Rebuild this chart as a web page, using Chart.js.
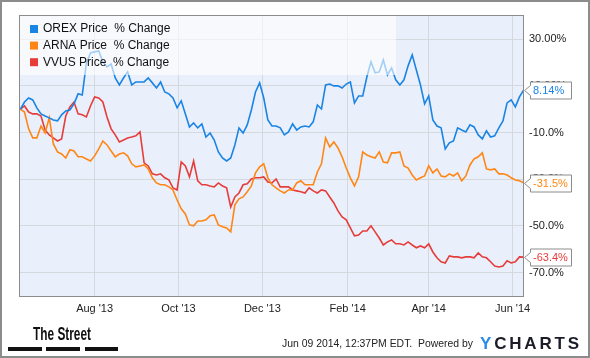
<!DOCTYPE html>
<html>
<head>
<meta charset="utf-8">
<script src="https://cdn.jsdelivr.net/npm/chart.js@4.4.1/dist/chart.umd.min.js"></script>
<style>
  html, body { margin: 0; padding: 0; background: #fff; }
  #wrap { width: 590px; height: 358px; position: relative; }
</style>
</head>
<body>
<div id="wrap"><canvas id="myChart"></canvas></div>
<script>
var seriesNames = ["OREX Price  % Change", "ARNA Price  % Change", "VVUS Price  % Change"];
var seriesColors = ["#1a84e5", "#ff8614", "#e63c3a"];
var endLabels = ["8.14%", "-31.5%", "-63.4%"];

// x axis: day 0 is 2013-06-07, one point every 3 days from 2013-06-08
var startDate = "2013-06-07";
var firstPoint = 1, stepDays = 3;
var tickDates = ["2013-08-01", "2013-10-01", "2013-12-01", "2014-02-01", "2014-04-01", "2014-06-01"];
var tickLabels = ["Aug '13", "Oct '13", "Dec '13", "Feb '14", "Apr '14", "Jun '14"];

var yTicks = [30, 10, -10, -30, -50, -70];
var yTickLabels = ["30.00%", "10.00%", "-10.0%", "-30.0%", "-50.0%", "-70.0%"];

var orex = [0, 3.1, 4.8, 4.0, 0.6, -2.0, -2.9, -3.7, -4.6, -5.0,
    -2.4, -0.7, -0.3, 2.3, 6.6, 6.1, 19.8, 24.1, 24.6, 25.0,
    20.3, 18.1, 19.4, 13.4, 10.4, 13.4, 16.0, 10.4, 11.7, 11.7,
    11.7, 13.4, 11.3, 9.1, 11.7, 7.4, 6.6, 4.8, 0.6, 3.6,
    -2.0, -7.6, -5.9, -8.0, -6.3, -11.9, -10.2, -13.2, -18.3, -20.9,
    -22.2, -20.9, -15.3, -8.0, -10.2, -6.7, -0.3, 7.4, 11.3, 4.8,
    -4.6, -7.2, -7.2, -8.0, -11.0, -9.7, -6.3, -8.9, -7.6, -7.2,
    -7.6, -5.4, 1.8, 0.1, 10.4, 10.8, 10.0, 10.0, 9.1, 10.8,
    11.7, 2.7, 5.7, 5.7, 13.8, 20.3, 15.6, 16.0, 21.1, 14.7,
    17.7, 12.6, 10.4, 12.6, 18.6, 23.3, 16.8, 10.4, 2.3, 5.7,
    -4.6, -7.2, -8.0, -17.0, -14.4, -13.6, -8.0, -8.9, -9.7, -6.7,
    -7.6, -11.0, -12.7, -9.3, -11.9, -11.4, -8.0, -5.0, 2.7, 4.0,
    1.0, 5.3, 8.14];

var arna = [0, -1.2, -8.4, -12.3, -12.3, -7.2, -10.2, -3.7, -14.9, -18.3,
    -19.2, -20.9, -17.4, -17.9, -20.4, -20.4, -21.3, -22.2, -20.0, -17.0,
    -13.6, -15.3, -17.9, -20.4, -19.2, -18.7, -20.0, -23.4, -24.7, -24.3,
    -23.9, -25.6, -29.4, -31.6, -32.4, -32.4, -33.3, -34.6, -38.9, -42.7,
    -44.9, -49.6, -50.0, -47.9, -47.9, -47.4, -45.7, -45.3, -49.6, -50.4,
    -50.9, -52.6, -41.0, -38.4, -37.6, -35.4, -32.9, -27.3, -24.7, -23.4,
    -29.4, -32.4, -33.7, -35.0, -35.9, -34.6, -34.6, -31.6, -30.7, -32.4,
    -32.4, -32.4, -26.9, -23.4, -12.3, -16.2, -14.0, -16.6, -20.4, -25.2,
    -29.4, -32.9, -29.0, -18.3, -19.6, -20.4, -20.9, -18.3, -22.6, -23.0,
    -18.7, -18.7, -18.3, -24.3, -25.2, -28.2, -30.3, -29.4, -28.6, -24.3,
    -27.3, -25.6, -28.6, -29.0, -27.7, -28.6, -27.3, -30.7, -28.6, -23.9,
    -21.3, -20.4, -18.7, -25.6, -26.0, -25.6, -27.7, -27.7, -28.2, -29.4,
    -30.3, -30.7, -31.5];

var vvus = [0, 1.4, -1.2, -2.0, -2.0, -2.9, -8.9, -11.0, -12.3, -13.6,
    -12.7, -2.9, 1.0, 3.1, -2.0, -2.4, -3.3, 1.4, 5.3, 4.8,
    3.1, -3.3, -8.4, -11.0, -14.0, -13.2, -12.3, -11.9, -11.4, -9.7,
    -23.0, -24.3, -27.7, -28.2, -27.7, -29.4, -30.3, -33.7, -34.6, -22.6,
    -24.3, -29.0, -22.2, -30.7, -32.4, -32.4, -32.9, -33.3, -31.6, -32.9,
    -33.7, -41.9, -37.6, -35.9, -32.4, -32.0, -29.9, -29.4, -29.4, -29.0,
    -31.2, -31.6, -29.9, -33.3, -33.3, -33.3, -34.6, -35.0, -35.4, -35.9,
    -33.7, -35.0, -35.9, -34.6, -35.0, -37.6, -40.2, -43.6, -46.2, -47.4,
    -50.9, -54.3, -53.9, -52.2, -52.2, -50.0, -52.6, -55.2, -58.2, -56.9,
    -56.0, -57.7, -57.7, -58.2, -56.9, -58.2, -59.4, -58.6, -59.4, -57.7,
    -61.2, -63.7, -65.4, -65.9, -62.9, -63.3, -63.3, -63.7, -63.3, -63.3,
    -63.7, -61.6, -63.3, -63.7, -65.4, -67.2, -67.6, -67.2, -65.0, -65.9,
    -65.4, -63.3, -63.4];

var FONT = '"Liberation Sans", Arial, sans-serif';

function dayOf(str) {
    return (Date.parse(str) - Date.parse(startDate)) / 86400000;
}

//build the point lists for chart.js
var allSeries = [orex, arna, vvus];
var datasets = [];
for (var s = 0; s < allSeries.length; s++) {
    var pts = [];
    for (var i = 0; i < allSeries[s].length; i++) {
        pts.push({ x: firstPoint + i * stepDays, y: allSeries[s][i] });
    }
    datasets.push({
        label: seriesNames[s],
        data: pts,
        borderColor: seriesColors[s],
        backgroundColor: seriesColors[s],
        borderWidth: 1.6,
        pointRadius: 0,
        tension: 0,
        fill: false
    });
}

//light blue plot background
var plotBg = {
    id: "plotBg",
    beforeDraw: function (chart) {
        var a = chart.chartArea, ctx = chart.ctx;
        ctx.save();
        ctx.fillStyle = "#eaf0fb";
        ctx.fillRect(a.left, a.top, a.right - a.left, a.bottom - a.top);
        ctx.restore();
    }
};

//legend box, frame and the last value flags
var overlay = {
    id: "overlay",
    afterDatasetsDraw: function (chart) {
        var a = chart.chartArea, ctx = chart.ctx;
        var yScale = chart.scales.y;
        ctx.save();

        // semi transparent legend box
        ctx.fillStyle = "rgba(255,255,255,0.6)";
        ctx.fillRect(a.left, a.top, 377, 60);
        ctx.font = "12px " + FONT;
        ctx.textBaseline = "middle";
        ctx.textAlign = "left";
        for (var i = 0; i < seriesNames.length; i++) {
            var ly = 29 + i * 16.6;
            ctx.fillStyle = seriesColors[i];
            ctx.fillRect(30, ly - 4, 8, 8);
            ctx.fillStyle = "#111";
            ctx.fillText(seriesNames[i], 43, ly);
        }

        // frame
        ctx.strokeStyle = "#8c8c8c";
        ctx.lineWidth = 1;
        ctx.strokeRect(a.left + 0.5, a.top + 0.5, a.right - a.left - 1, a.bottom - a.top - 1);

        // end value flags
        ctx.font = "11px " + FONT;
        for (var j = 0; j < allSeries.length; j++) {
            var last = allSeries[j][allSeries[j].length - 1];
            var py = Math.round(yScale.getPixelForValue(last)) + 0.5;
            var x0 = a.right + 0.5, x1 = a.right + 6.5, x2 = a.right + 47.5;
            ctx.beginPath();
            ctx.moveTo(x0, py);
            ctx.lineTo(x1, py - 5);
            ctx.lineTo(x1, py - 8.5);
            ctx.lineTo(x2, py - 8.5);
            ctx.lineTo(x2, py + 8.5);
            ctx.lineTo(x1, py + 8.5);
            ctx.lineTo(x1, py + 5);
            ctx.closePath();
            ctx.fillStyle = "#fff";
            ctx.fill();
            ctx.strokeStyle = "#8c8c8c";
            ctx.stroke();
            ctx.fillStyle = seriesColors[j];
            ctx.fillText(endLabels[j], a.right + 9, py + 0.5);
        }
        ctx.restore();
    },
    afterDraw: function (chart) {
        var ctx = chart.ctx;
        ctx.save();
        // outer border
        ctx.strokeStyle = "#8c8c8c";
        ctx.lineWidth = 2;
        ctx.strokeRect(1, 1, 588, 356);

        // The Street logo
        ctx.fillStyle = "#111";
        ctx.font = "bold 18px " + FONT;
        ctx.textBaseline = "middle";
        ctx.textAlign = "left";
        var w = ctx.measureText("The Street").width;
        ctx.save();
        ctx.translate(33, 335);
        ctx.scale(58 / w, 1);
        ctx.fillText("The Street", 0, 0);
        ctx.restore();
        ctx.fillRect(8, 347, 34, 4);
        ctx.fillRect(46, 347, 34, 4);
        ctx.fillRect(85, 347, 33, 4);

        // footer text
        ctx.font = "11px " + FONT;
        ctx.fillStyle = "#222";
        var txt = "Jun 09 2014, 12:37PM EDT.  Powered by";
        var tw = ctx.measureText(txt).width;
        ctx.save();
        ctx.translate(282, 343.5);
        ctx.scale(191 / tw, 1);
        ctx.fillText(txt, 0, 0);
        ctx.restore();

        // YCHARTS
        ctx.font = "bold 17px " + FONT;
        var letters = "YCHARTS".split("");
        var lw = 0;
        for (var i = 0; i < letters.length; i++) lw += ctx.measureText(letters[i]).width;
        var gap = (99 - lw) / (letters.length - 1);
        var lx = 480;
        for (var i = 0; i < letters.length; i++) {
            ctx.fillStyle = i === 0 ? "#2a8ae8" : "#1c1c28";
            ctx.fillText(letters[i], lx, 344);
            lx += ctx.measureText(letters[i]).width + gap;
        }
        ctx.restore();
    }
};

var ctx1 = document.getElementById("myChart");
var myChart = new Chart(ctx1, {
    type: "line",
    data: { datasets: datasets },
    options: {
        responsive: true,
        maintainAspectRatio: false,
        animation: false,
        devicePixelRatio: 1,
        layout: { padding: { left: 19, top: 15, right: 0, bottom: 0 } },
        plugins: { legend: { display: false }, title: { display: false }, tooltip: { enabled: false } },
        scales: {
            x: {
                type: "linear",
                min: 0,
                max: 367.3,
                afterBuildTicks: function (scale) {
                    scale.ticks = tickDates.map(function (d) { return { value: dayOf(d) }; });
                },
                afterFit: function (scale) { scale.height = 61; },
                grid: { color: "#d5d8dd", drawTicks: false },
                border: { display: false },
                ticks: {
                    autoSkip: false,
                    maxRotation: 0,
                    padding: 5,
                    color: "#222",
                    font: { family: FONT, size: 11 },
                    callback: function (v, i) { return tickLabels[i]; }
                }
            },
            y: {
                position: "right",
                min: -80.5,
                max: 40.4,
                afterBuildTicks: function (scale) {
                    scale.ticks = yTicks.map(function (v) { return { value: v }; });
                },
                afterFit: function (scale) { scale.width = 66; },
                grid: { color: "#d5d8dd", drawTicks: false },
                border: { display: false },
                ticks: {
                    padding: 5,
                    color: "#222",
                    font: { family: FONT, size: 11 },
                    callback: function (v, i) { return yTickLabels[i]; }
                }
            }
        }
    },
    plugins: [plotBg, overlay]
});
</script>
</body>
</html>
